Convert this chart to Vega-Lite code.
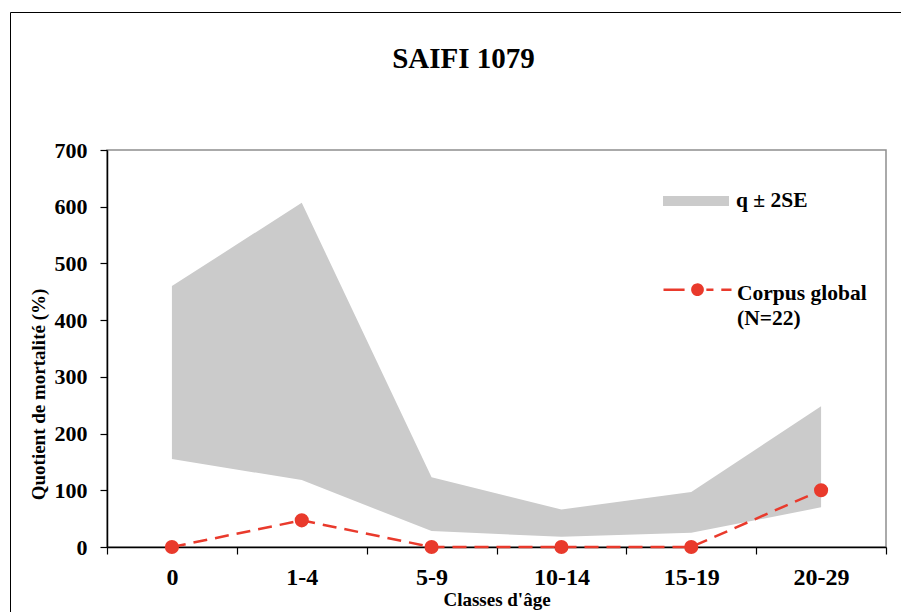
{
  "$schema": "https://vega.github.io/schema/vega-lite/v6.json",
  "width": 779,
  "height": 397,
  "autosize": {"type": "none"},
  "padding": {"left": 107, "top": 150, "right": 15, "bottom": 65},
  "background": "white",
  "title": {
    "text": "SAIFI 1079",
    "fontSize": 29,
    "fontWeight": "bold",
    "color": "black",
    "anchor": "middle",
    "frame": "group",
    "dx": -33,
    "offset": -62
  },
  "config": {
    "font": "Liberation Serif",
    "view": {"stroke": "#8f8f8f", "strokeWidth": 1.5}
  },
  "data": {
    "values": [
      {"age": "0", "lower": 155, "upper": 460, "q": 0},
      {"age": "1-4", "lower": 118, "upper": 607, "q": 47},
      {"age": "5-9", "lower": 28, "upper": 123, "q": 0},
      {"age": "10-14", "lower": 18, "upper": 66, "q": 0},
      {"age": "15-19", "lower": 25, "upper": 97, "q": 0},
      {"age": "20-29", "lower": 70, "upper": 248, "q": 100}
    ]
  },
  "encoding": {
    "x": {
      "field": "age",
      "type": "ordinal",
      "sort": ["0", "1-4", "5-9", "10-14", "15-19", "20-29"],
      "bandPosition": 0.5,
      "scale": {"type": "band", "paddingInner": 0, "paddingOuter": 0},
      "axis": {
        "title": "Classes d'âge",
        "labelAngle": 0,
        "tickBand": "extent",
        "domainColor": "black",
        "domainWidth": 1.5,
        "tickColor": "black",
        "tickWidth": 1.2,
        "tickSize": 7,
        "labelFontSize": 24,
        "labelFontWeight": "bold",
        "labelColor": "black",
        "labelPadding": 11,
        "titleFontSize": 19,
        "titleFontWeight": "bold",
        "titleColor": "black",
        "titlePadding": 1
      }
    }
  },
  "layer": [
    {
      "mark": {"type": "area", "opacity": 1},
      "encoding": {
        "y": {
          "field": "lower",
          "type": "quantitative",
          "scale": {"domain": [0, 700], "nice": false},
          "axis": {
            "title": "Quotient de mortalité (%)",
            "values": [0, 100, 200, 300, 400, 500, 600, 700],
            "grid": false,
            "domainColor": "black",
            "domainWidth": 1.5,
            "tickColor": "black",
            "tickWidth": 1.2,
            "tickSize": 7,
            "labelFontSize": 22,
            "labelFontWeight": "bold",
            "labelColor": "black",
            "labelPadding": 13,
            "titleFontSize": 19,
            "titleFontWeight": "bold",
            "titleColor": "black",
            "titleX": -69,
            "titleY": 244,
            "titleAlign": "center",
            "titleBaseline": "middle",
            "titleAngle": -90
          }
        },
        "y2": {"field": "upper"},
        "fill": {
          "datum": "q ± 2SE",
          "scale": {"range": ["#cbcbcb"]},
          "legend": {
            "orient": "none",
            "legendX": 556,
            "legendY": 18,
            "title": null,
            "padding": 0,
            "symbolType": "M-1,-0.15H1V0.15H-1Z",
            "symbolSize": 4356,
            "symbolStrokeWidth": 0,
            "symbolOpacity": 1,
            "labelFontSize": 21.5,
            "labelFontWeight": "bold",
            "labelColor": "black",
            "labelOffset": 7
          }
        }
      }
    },
    {
      "mark": {"type": "line", "strokeDash": [14, 8], "strokeWidth": 2.5},
      "encoding": {
        "y": {"field": "q", "type": "quantitative"},
        "stroke": {
          "datum": "Corpus global",
          "scale": {"range": ["#e93a2c"]},
          "legend": {
            "orient": "none",
            "legendX": 555,
            "legendY": 114,
            "title": null,
            "padding": 0,
            "symbolType": "M-1,-0.29H-0.38M0.26,-0.29H0.47M0.7,-0.29H1M-0.15,-0.29A0.15,0.15,0,1,1,0.15,-0.29A0.15,0.15,0,1,1,-0.15,-0.29Z",
            "symbolSize": 4624,
            "symbolFillColor": "#e93a2c",
            "symbolStrokeColor": "#e93a2c",
            "symbolStrokeWidth": 2.5,
            "symbolDash": [1, 0],
            "symbolOpacity": 1,
            "labelExpr": "['Corpus global', '(N=22)']",
            "labelBaseline": "alphabetic",
            "labelFontSize": 21.5,
            "labelFontWeight": "bold",
            "labelColor": "black",
            "labelOffset": 4,
            "encode": {"labels": {"update": {"lineHeight": {"value": 25}}}}
          }
        }
      }
    },
    {
      "mark": {"type": "point", "filled": true, "size": 200, "color": "#e93a2c", "opacity": 1},
      "encoding": {
        "y": {"field": "q", "type": "quantitative"},
        "shape": {
          "datum": "frame",
          "scale": {"range": ["circle"]},
          "legend": {
            "orient": "none",
            "legendX": -97,
            "legendY": -138,
            "title": null,
            "padding": 460,
            "strokeColor": "black",
            "symbolOpacity": 0,
            "labelExpr": "''",
            "encode": {"legend": {"update": {"strokeWidth": {"value": 1.5}}}}
          }
        }
      }
    }
  ]
}
